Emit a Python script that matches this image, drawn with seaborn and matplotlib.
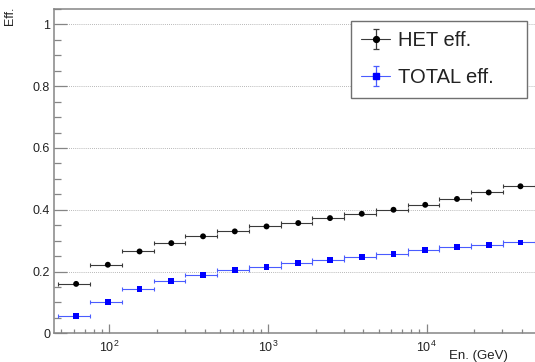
import numpy as np
import pandas as pd
import matplotlib
matplotlib.use("Agg")
import matplotlib.pyplot as plt
from matplotlib.ticker import LogLocator, NullFormatter, MultipleLocator, FixedLocator
import seaborn as sns

# Energy bin edges (GeV), logarithmic binning
bin_edges = [47.9, 75.9, 120.2, 190.5, 302.0, 478.6, 758.6, 1202.0, 1905.0,
             3020.0, 4786.0, 7586.0, 12023.0, 19055.0, 30200.0, 47863.0]

# Efficiencies per energy bin
het_eff = [0.160, 0.222, 0.265, 0.292, 0.314, 0.330, 0.346, 0.357,
           0.373, 0.387, 0.400, 0.416, 0.435, 0.456, 0.476]
total_eff = [0.057, 0.100, 0.143, 0.170, 0.190, 0.204, 0.215, 0.227,
             0.238, 0.248, 0.256, 0.269, 0.278, 0.287, 0.294]

series_names = ["HET eff.", "TOTAL eff."]
y_ticks = [0, 0.2, 0.4, 0.6, 0.8, 1]
y_tick_labels = ["0", "0.2", "0.4", "0.6", "0.8", "1"]
x_label = "En. (GeV)"
y_label = "Eff."

sns.set_theme(style="white")
plt.rcParams["font.family"] = ["Liberation Sans", "DejaVu Sans"]
plt.rcParams["mathtext.fontset"] = "custom"
plt.rcParams["mathtext.rm"] = "Liberation Sans"
plt.rcParams["mathtext.it"] = "Liberation Sans:italic"

lo = np.array(bin_edges[:-1])
hi = np.array(bin_edges[1:])
centers = (lo + hi) / 2.0

df = pd.DataFrame({
    "energy": np.concatenate([centers, centers]),
    "eff": np.concatenate([het_eff, total_eff]),
    "series": [series_names[0]] * len(centers) + [series_names[1]] * len(centers),
})

frame_col = "#858585"
text_col = "#222222"
colors = {series_names[0]: "#000000", series_names[1]: "#0000ff"}
bar_colors = {series_names[0]: "#3a3a3a", series_names[1]: "#4a5cff"}
markers = {series_names[0]: "o", series_names[1]: "s"}
msizes = {series_names[0]: 3.6, series_names[1]: 4.0}

fig = plt.figure(figsize=(5.35, 3.62), dpi=100)
ax = fig.add_axes([54.3 / 535, (362 - 333.3) / 362, 1 - 54.3 / 535, (333.3 - 9) / 362])

# horizontal bin-width bars
for name, vals in zip(series_names, [het_eff, total_eff]):
    ax.errorbar(centers, vals, xerr=[centers - lo, hi - centers], fmt="none",
                ecolor=bar_colors[name], elinewidth=0.8, capsize=1.6, capthick=0.8,
                zorder=2)

sns.scatterplot(data=df, x="energy", y="eff", hue="series", style="series",
                palette=colors, markers=markers, s=18, edgecolor="none",
                legend=False, ax=ax, zorder=3)

# legend proxies: line + point + vertical error bar
handles = []
for name in series_names:
    h = ax.errorbar([np.nan], [np.nan], yerr=[0.1], fmt="-" + markers[name],
                    color=bar_colors[name], ecolor=bar_colors[name],
                    mfc=colors[name], mec=colors[name],
                    ms=msizes[name] + 0.6, lw=0.8, elinewidth=0.9, capsize=2.5,
                    capthick=0.9, label=name)
    handles.append(h)

ax.set_xscale("log")
ax.set_xlim(45.1, 48200)
ax.set_ylim(0, 1.05)

ax.xaxis.set_major_locator(LogLocator(base=10, numticks=10))
ax.xaxis.set_minor_locator(LogLocator(base=10, subs=np.arange(2, 10), numticks=20))
ax.xaxis.set_minor_formatter(NullFormatter())
ax.yaxis.set_major_locator(FixedLocator(y_ticks))
ax.set_yticklabels(y_tick_labels)
ax.yaxis.set_minor_locator(MultipleLocator(0.05))

ax.tick_params(axis="x", which="major", direction="in", length=6.6, width=0.9,
               color=frame_col, labelsize=9, labelcolor=text_col, pad=5,
               top=False, bottom=True)
ax.tick_params(axis="x", which="minor", direction="in", length=3.2, width=0.9,
               color=frame_col, top=False, bottom=True)
ax.tick_params(axis="y", which="major", direction="in", length=9.0, width=0.9,
               color=frame_col, labelsize=9, labelcolor=text_col, pad=3,
               left=True, right=False)
ax.tick_params(axis="y", which="minor", direction="in", length=5.2, width=0.9,
               color=frame_col, left=True, right=False)

for side in ["left", "bottom", "top"]:
    ax.spines[side].set_color(frame_col)
    ax.spines[side].set_linewidth(1.1)
ax.spines["right"].set_visible(False)

ax.yaxis.grid(True, which="major", linestyle=(0, (1, 1.5)), color="#a0a0a0",
              linewidth=0.6)
ax.xaxis.grid(False)
ax.set_axisbelow(True)
ax.set_xlabel("")
ax.set_ylabel("")

fig.text(508 / 535, 1 - 356 / 362, x_label, ha="right", va="center",
         fontsize=9.5, color=text_col)
fig.text(10.5 / 535, 1 - 7 / 362, y_label, ha="center", va="top", rotation=90,
         fontsize=9, color=text_col)

leg = ax.legend(handles=handles, labels=series_names,
                loc="upper left",
                bbox_to_anchor=(0.617, 0.964, 0.366, 0.0), mode="expand",
                fontsize=14.5, frameon=True, fancybox=False, framealpha=1,
                edgecolor="#707070", borderpad=0.5, labelspacing=0.93,
                handlelength=1.45, handletextpad=0.4, borderaxespad=0.0)
leg.get_frame().set_linewidth(1.0)
for t in leg.get_texts():
    t.set_color(text_col)

fig.savefig("out.png", dpi=100)
